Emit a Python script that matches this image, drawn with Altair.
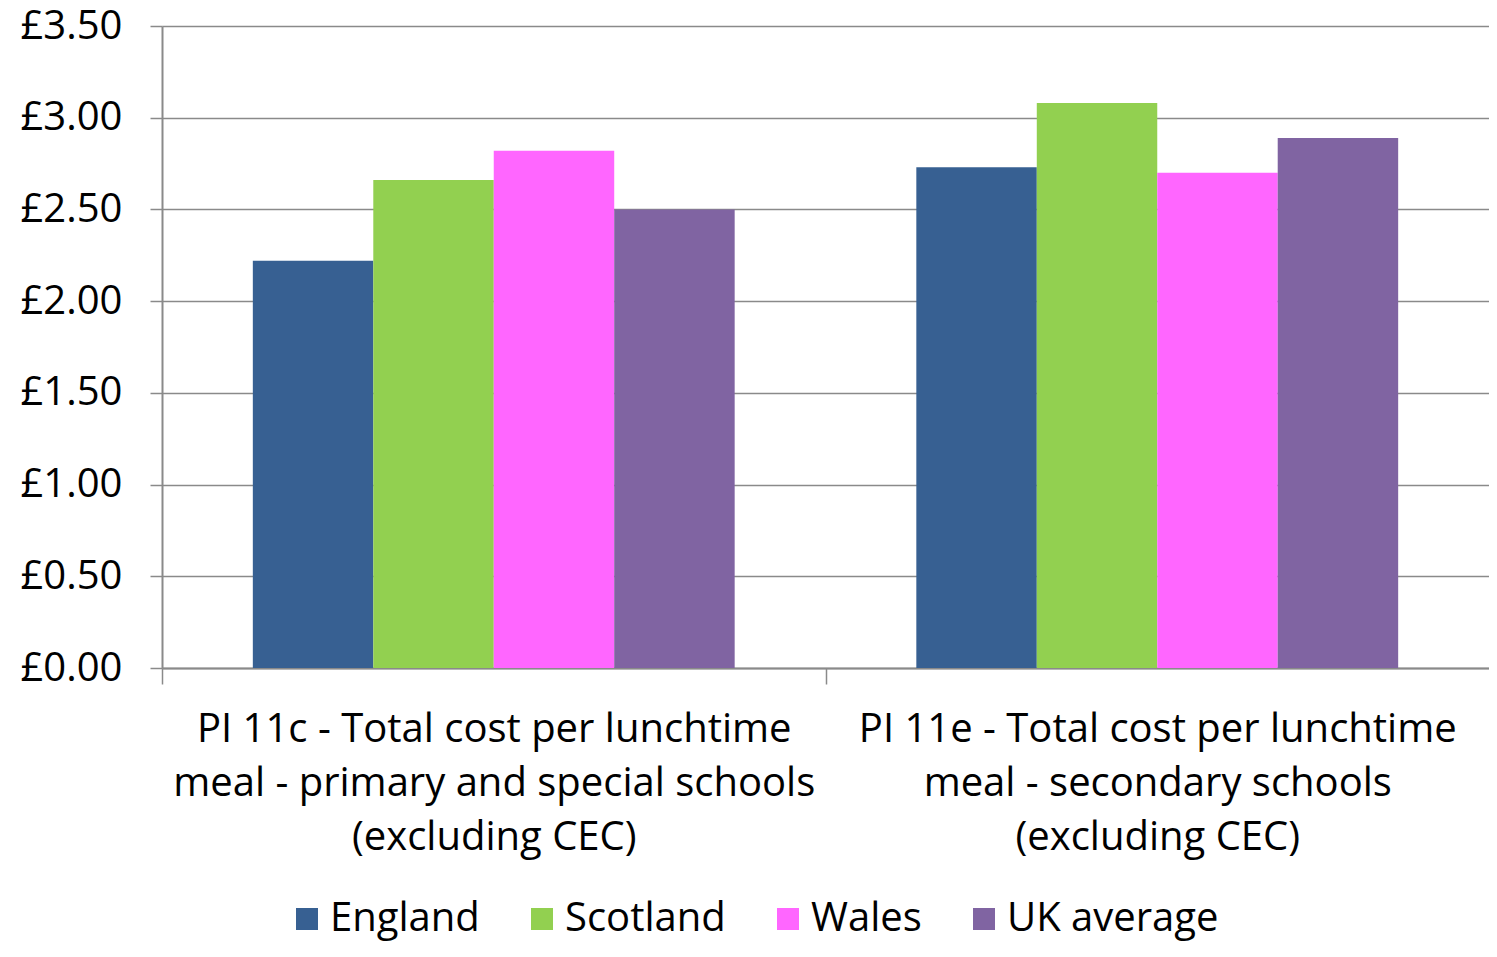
import json
import altair as alt
import pandas as pd

categories = [
    "PI 11c - Total cost per lunchtime meal - primary and special schools (excluding CEC)",
    "PI 11e - Total cost per lunchtime meal - secondary schools (excluding CEC)",
]
category_lines = [
    ["PI 11c - Total cost per lunchtime", "meal - primary and special schools", "(excluding CEC)"],
    ["PI 11e - Total cost per lunchtime", "meal - secondary schools", "(excluding CEC)"],
]
regions = ["England", "Scotland", "Wales", "UK average"]
england = [2.22, 2.73]
scotland = [2.66, 3.08]
wales = [2.82, 2.70]
uk_average = [2.50, 2.89]
colors = ["#376092", "#92D050", "#FF66FF", "#8064A2"]
y_ticks = [0, 0.5, 1.0, 1.5, 2.0, 2.5, 3.0, 3.5]

series = dict(zip(regions, [england, scotland, wales, uk_average]))
rows = []
for r in regions:
    for c, v in zip(categories, series[r]):
        rows.append({"category": c, "region": r, "value": v})
df = pd.DataFrame(rows)

label_expr = "datum.value == {} ? {} : {}".format(
    json.dumps(categories[0]), json.dumps(category_lines[0]), json.dumps(category_lines[1])
)

W, H = 1327, 642
FONT = "Open Sans"
GRAY = "#8a8a8a"

chart = alt.Chart(df).mark_bar().encode(
    x=alt.X(
        "category:N",
        sort=categories,
        scale=alt.Scale(paddingInner=0, paddingOuter=0),
        axis=alt.Axis(
            title=None,
            labelAngle=0,
            labelExpr=label_expr,
            labelFont=FONT,
            labelFontSize=40,
            labelColor="#000000",
            labelLineHeight=54,
            labelPadding=25,
            labelLimit=0,
            labelBaseline="top",
            tickSize=16,
            tickColor=GRAY,
            tickWidth=1.5,
            domainColor=GRAY,
            domainWidth=2,
            tickOffset=-W / 4,
            labelOffset=W / 4,
        ),
    ),
    xOffset=alt.XOffset(
        "region:N",
        sort=regions,
        scale=alt.Scale(paddingInner=0, paddingOuter=0.754),
    ),
    y=alt.Y(
        "value:Q",
        scale=alt.Scale(domain=[0, 3.5], nice=False),
        axis=alt.Axis(
            title=None,
            values=y_ticks,
            labelExpr="'£' + format(datum.value, '.2f')",
            labelFont=FONT,
            labelFontSize=40,
            labelColor="#000000",
            labelPadding=28,
            tickSize=12,
            tickColor=GRAY,
            tickWidth=1.5,
            domainColor=GRAY,
            domainWidth=2,
            grid=True,
            gridColor=GRAY,
            gridWidth=1.5,
        ),
    ),
    color=alt.Color(
        "region:N",
        sort=regions,
        scale=alt.Scale(domain=regions, range=colors),
        legend=alt.Legend(
            title=None,
            orient="none",
            legendX=125,
            legendY=873,
            direction="horizontal",
            symbolType="square",
            symbolSize=484,
            symbolStrokeWidth=0,
            symbolOpacity=1,
            labelFont=FONT,
            labelFontSize=40,
            labelColor="#000000",
            labelOffset=3,
            columnPadding=42,
            labelLimit=0,
        ),
    ),
).properties(
    width=W,
    height=H,
    padding={"left": 154, "top": 18, "right": 0, "bottom": 274},
    autosize=alt.AutoSizeParams(type="none"),
).configure_view(stroke=None)

chart.save("out.html", embed_options={"renderer": "svg", "actions": False})
